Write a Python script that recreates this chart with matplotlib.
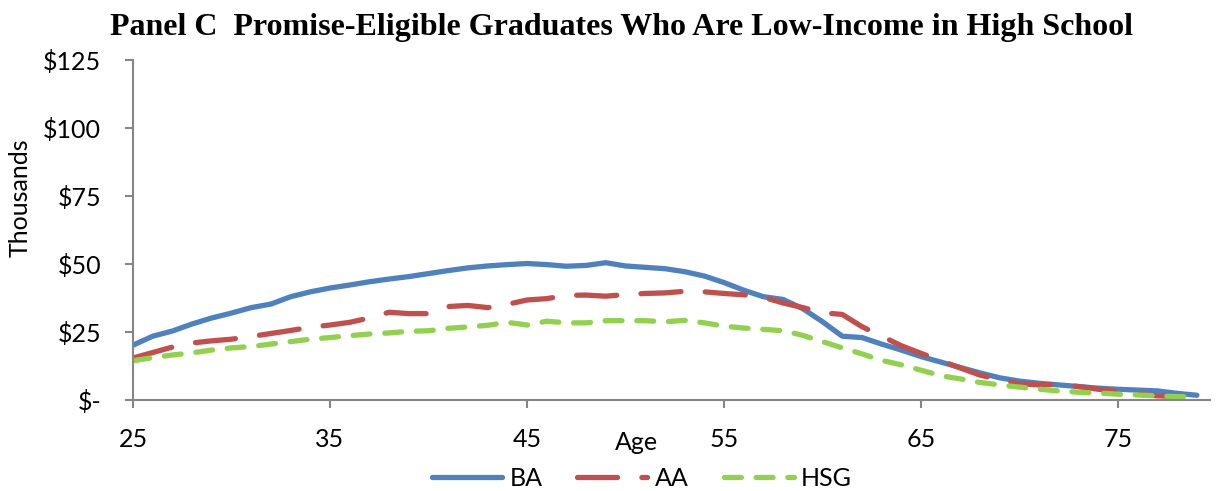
import numpy as np
import matplotlib
matplotlib.use('Agg')
import matplotlib.pyplot as plt
from matplotlib.ticker import FuncFormatter

# Earnings by age, thousands of dollars
ages = np.arange(25, 80)
ba = [20.2, 23.5, 25.4, 28.0, 30.2, 32.0, 34.0, 35.3, 38.0, 39.8,
      41.2, 42.3, 43.5, 44.5, 45.4, 46.5, 47.6, 48.6, 49.3, 49.8,
      50.2, 49.8, 49.2, 49.5, 50.5, 49.3, 48.8, 48.3, 47.2, 45.6,
      43.2, 40.4, 38.0, 37.0, 33.6, 28.8, 23.5, 23.0, 20.6, 18.4,
      16.0, 14.0, 12.0, 10.0, 8.2, 7.0, 6.2, 5.6, 5.0, 4.4,
      4.0, 3.7, 3.4, 2.5, 1.8]
aa = [15.5, 17.5, 19.5, 21.0, 21.8, 22.4, 23.4, 24.5, 25.6, 26.8,
      27.6, 28.6, 30.2, 32.3, 31.8, 31.8, 34.4, 34.8, 34.0, 35.2,
      36.8, 37.3, 38.5, 38.6, 38.2, 38.8, 39.2, 39.4, 40.0, 39.8,
      39.2, 38.7, 37.8, 35.7, 34.0, 32.1, 31.5, 27.0, 23.5, 20.0,
      17.2, 14.5, 11.8, 9.2, 7.5, 6.0, 5.6, 5.8, 5.0, 4.0,
      3.2, 2.2, 1.6, 1.3, 1.2]
hsg = [14.5, 15.6, 16.6, 17.4, 18.4, 19.2, 19.7, 20.6, 21.5, 22.4,
       23.0, 23.7, 24.3, 24.7, 25.3, 25.5, 26.4, 26.9, 27.5, 28.6,
       27.6, 29.0, 28.4, 28.4, 29.2, 29.2, 29.2, 28.8, 29.3, 28.4,
       27.2, 26.5, 26.0, 25.5, 23.8, 21.5, 19.2, 17.0, 14.6, 13.0,
       11.0, 9.0, 7.8, 6.5, 5.6, 4.8, 4.0, 3.4, 2.9, 2.6,
       2.2, 1.9, 1.6, 1.3, 1.2]
xticks = [25, 35, 45, 55, 65, 75]
yticks = [0, 25, 50, 75, 100, 125]

plt.rcParams['font.family'] = ['Lato', 'DejaVu Sans']

fig = plt.figure(figsize=(12.17, 4.91), dpi=100)
ax = fig.add_axes([0.1093, 0.185, 0.885, 0.693])

ax.plot(ages, ba, color='#4F81BD', lw=3.8, solid_capstyle='round', label='BA')
ax.plot(ages, aa, color='#C0504D', lw=3.8, dashes=(7.6, 4.6),
        dash_capstyle='round', label='AA')
ax.plot(ages, hsg, color='#92D050', lw=3.8, dashes=(3.2, 2.8),
        dash_capstyle='round', label='HSG')

ax.set_xlim(25, 79.67)
ax.set_ylim(0, 125)
ax.set_xticks(xticks)
ax.set_yticks(yticks)
ax.yaxis.set_major_formatter(FuncFormatter(lambda v, p: '$-' if v == 0 else f'${v:.0f}'))

for s in ['top', 'right']:
    ax.spines[s].set_visible(False)
for s in ['left', 'bottom']:
    ax.spines[s].set_color('#868686')
    ax.spines[s].set_linewidth(1.5)
ax.tick_params(axis='both', direction='out', length=6, width=1.5, color='#868686',
               labelsize=18)
ax.tick_params(axis='x', pad=14)
ax.tick_params(axis='y', pad=17)

fig.text(636 / 1217, 1 - 443 / 491, 'Age', ha='center', va='center', fontsize=18)
fig.text(20 / 1217, 1 - 198 / 491, 'Thousands', ha='center', va='center',
         rotation=90, fontsize=18)

fig.text(621 / 1217, 1 - 27 / 491, 'Panel C  Promise-Eligible Graduates Who Are Low-Income in High School',
         ha='center', va='center', fontsize=23, fontweight='bold',
         family='Liberation Serif')

fig.legend(loc='center', bbox_to_anchor=(642 / 1217, 1 - 478 / 491), ncol=3, frameon=False,
           fontsize=18, handlelength=2.8, columnspacing=1.4, handletextpad=0.3)

fig.savefig('out.png', dpi=100)
